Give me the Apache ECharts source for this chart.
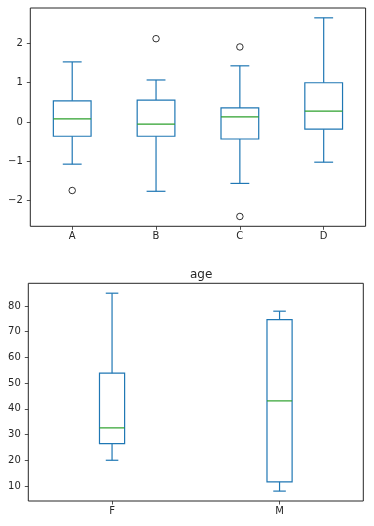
<!DOCTYPE html>
<html><head><meta charset="utf-8">
<script src="https://cdn.jsdelivr.net/npm/echarts@6/dist/echarts.min.js"></script>
<style>html,body{margin:0;padding:0;background:#fff}#c{width:374px;height:526px}</style>
</head><body><div id="c"></div>
<script>
// Top chart data
var categories1 = ['A', 'B', 'C', 'D'];
var whiskerLow1 = [-1.07, -1.76, -1.56, -1.02];
var q1_1 = [-0.36, -0.36, -0.43, -0.18];
var median1 = [0.08, -0.05, 0.13, 0.28];
var q3_1 = [0.54, 0.56, 0.36, 1.00];
var whiskerHigh1 = [1.53, 1.07, 1.43, 2.65];
var outliers1 = [['A', -1.74], ['B', 2.12], ['C', 1.91], ['C', -2.40]];
var yTicks1 = [-2, -1, 0, 1, 2];

// Bottom chart data
var title2 = 'age';
var categories2 = ['F', 'M'];
var whiskerLow2 = [20, 8];
var q1_2 = [26.5, 11.6];
var median2 = [32.6, 43.1];
var q3_2 = [53.9, 74.7];
var whiskerHigh2 = [85, 78];
var yTicks2 = [10, 20, 30, 40, 50, 60, 70, 80];

var BLUE = '#1f77b4', GREEN = '#2ca02c';

function rows(cats, lo, q1, md, q3, hi) {
  return cats.map(function (c, i) { return [i, lo[i], q1[i], md[i], q3[i], hi[i]]; });
}

function makeRender(boxFrac) {
  return function (params, api) {
    var x = api.value(0);
    var band = api.size([1, 0])[0];
    var bw = band * boxFrac, cw = bw / 2;
    var pLo = api.coord([x, api.value(1)]);
    var pQ1 = api.coord([x, api.value(2)]);
    var pMd = api.coord([x, api.value(3)]);
    var pQ3 = api.coord([x, api.value(4)]);
    var pHi = api.coord([x, api.value(5)]);
    var cx = pLo[0];
    var ls = { stroke: BLUE, lineWidth: 1.2, fill: null };
    return {
      type: 'group',
      children: [
        { type: 'line', shape: { x1: cx, y1: pLo[1], x2: cx, y2: pQ1[1] }, style: ls },
        { type: 'line', shape: { x1: cx, y1: pQ3[1], x2: cx, y2: pHi[1] }, style: ls },
        { type: 'line', shape: { x1: cx - cw / 2, y1: pLo[1], x2: cx + cw / 2, y2: pLo[1] }, style: ls },
        { type: 'line', shape: { x1: cx - cw / 2, y1: pHi[1], x2: cx + cw / 2, y2: pHi[1] }, style: ls },
        { type: 'rect', shape: { x: cx - bw / 2, y: pQ3[1], width: bw, height: pQ1[1] - pQ3[1] }, style: { stroke: BLUE, lineWidth: 1.2, fill: 'none' } },
        { type: 'line', shape: { x1: cx - bw / 2, y1: pMd[1], x2: cx + bw / 2, y2: pMd[1] }, style: { stroke: GREEN, lineWidth: 1.2 } }
      ]
    };
  };
}

var fmt = function (v) { return String(v).replace('-', '\u2212'); };
var labelStyle = { color: '#262626', fontSize: 10, fontFamily: 'DejaVu Sans' };
var tickStyle = { show: true, length: 3.5, lineStyle: { color: '#262626', width: 0.8 } };

var chart = echarts.init(document.getElementById('c'), null, { renderer: 'canvas' });
chart.setOption({
  animation: false,
  backgroundColor: '#fff',
  title: {
    text: title2, left: 185, top: 264,
    textStyle: { fontSize: 12, fontWeight: 'normal', color: '#262626', fontFamily: 'DejaVu Sans' }
  },
  grid: [
    { left: 30.3, top: 8, width: 335.3, height: 218.3, show: true, borderColor: '#262626', borderWidth: 1, backgroundColor: 'transparent' },
    { left: 28.3, top: 283.3, width: 335, height: 217.7, show: true, borderColor: '#262626', borderWidth: 1, backgroundColor: 'transparent' }
  ],
  xAxis: [
    { type: 'category', gridIndex: 0, data: categories1, boundaryGap: true, position: 'bottom',
      axisLine: { show: false, onZero: false }, axisTick: Object.assign({ alignWithLabel: true }, tickStyle),
      axisLabel: Object.assign({ margin: 5 }, labelStyle), splitLine: { show: false } },
    { type: 'category', gridIndex: 1, data: categories2, boundaryGap: true, position: 'bottom',
      axisLine: { show: false, onZero: false }, axisTick: Object.assign({ alignWithLabel: true }, tickStyle),
      axisLabel: Object.assign({ margin: 5 }, labelStyle), splitLine: { show: false } }
  ],
  yAxis: [
    { type: 'value', gridIndex: 0, min: -2.65, max: 2.9,
      axisLine: { show: false, onZero: false },
      axisTick: Object.assign({ customValues: yTicks1 }, tickStyle),
      axisLabel: Object.assign({ customValues: yTicks1, formatter: fmt, margin: 7.5 }, labelStyle),
      splitLine: { show: false } },
    { type: 'value', gridIndex: 1, min: 4.15, max: 88.85,
      axisLine: { show: false, onZero: false },
      axisTick: Object.assign({ customValues: yTicks2 }, tickStyle),
      axisLabel: Object.assign({ customValues: yTicks2, formatter: fmt, margin: 7.5 }, labelStyle),
      splitLine: { show: false } }
  ],
  series: [
    { type: 'custom', xAxisIndex: 0, yAxisIndex: 0, renderItem: makeRender(0.45),
      data: rows(categories1, whiskerLow1, q1_1, median1, q3_1, whiskerHigh1),
      encode: { x: 0, y: [1, 2, 3, 4, 5] }, clip: false },
    { type: 'scatter', xAxisIndex: 0, yAxisIndex: 0, data: outliers1, symbol: 'circle', symbolSize: 6.5,
      itemStyle: { color: 'rgba(0,0,0,0)', borderColor: '#000', borderWidth: 1 } },
    { type: 'custom', xAxisIndex: 1, yAxisIndex: 1, renderItem: makeRender(0.15),
      data: rows(categories2, whiskerLow2, q1_2, median2, q3_2, whiskerHigh2),
      encode: { x: 0, y: [1, 2, 3, 4, 5] }, clip: false }
  ]
});
</script>
</body></html>
